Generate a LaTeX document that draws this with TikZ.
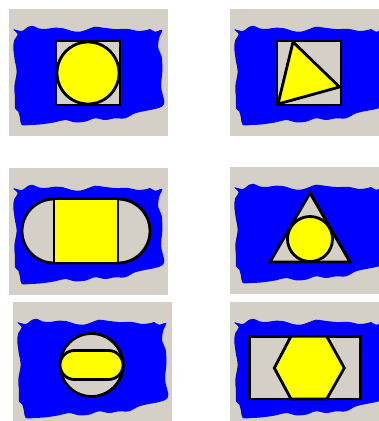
\documentclass[tikz,border=0pt]{standalone}
\definecolor{panelgray}{RGB}{212,208,200}
\definecolor{blobblue}{RGB}{0,0,255}
\definecolor{shapeyellow}{RGB}{255,255,0}
\tikzset{
  outline/.style={draw=black,line width=2.8pt,line join=miter,fill=panelgray},
  inner/.style={draw=black,line width=2.8pt,line join=miter,fill=shapeyellow},
  panel/.pic={
    \fill[panelgray] (0,0) rectangle (159,127);
    \fill[blobblue] plot[smooth cycle,tension=0.55] coordinates {
      (4.3,20.3) (12.7,22) (19.3,17.7) (24.3,17) (29.3,19.3) (36,20)
      (46,18.7) (54.3,19.3) (62.7,22) (71,22.7) (79.3,20) (86,17.7)
      (94.3,18.7) (106,20) (119.3,20) (129.3,22) (137.7,21) (141,20)
      (146,22.7) (153.3,21)
      (150,29.3) (149.3,39.3) (152.7,47.7) (153.3,62.7) (152,77.7)
      (155.3,92.7) (152.7,97.7)
      (146,100) (136,102) (126,104.3) (116,109.3) (106,109.3) (96,111)
      (86,109.3) (76,112.7) (66,113.3) (56,111) (46,113.3) (32.7,115.3)
      (21,116) (12.7,116)
      (11,109.3) (9.3,102.7) (6,99.3) (6,89.3) (5.3,77.7) (7.7,62.7)
      (6,52.7) (4.3,39.3) (5.3,31) (8.7,25.3)};
  }
}
\begin{document}
\begin{tikzpicture}[x=1pt,y=-1pt]
\useasboundingbox (0,0) rectangle (379,421);
\clip (0,0) rectangle (379,421);
% panel 1: circle in square
\begin{scope}[shift={(9,9)}]
  \pic {panel};
  \draw[outline] (47,32) rectangle (111,96);
  \draw[inner] (79,64) circle[radius=31];
\end{scope}
% panel 2: triangle in square
\begin{scope}[shift={(230,9)}]
  \pic {panel};
  \draw[outline] (47,32) rectangle (111,96);
  \draw[inner] (63,33) -- (109.5,78) -- (48,95) -- cycle;
\end{scope}
% panel 3: square in stadium
\begin{scope}[shift={(9,168)}]
  \pic {panel};
  \draw[outline] (45,31) -- (109,31) arc[start angle=-90,end angle=90,radius=32]
    -- (45,95) arc[start angle=90,end angle=270,radius=32] -- cycle;
  \draw[inner] (45,31) rectangle (109,95);
\end{scope}
% panel 4: circle in triangle
\begin{scope}[shift={(230,167)}]
  \pic {panel};
  \draw[outline] (80,26) -- (120,95) -- (40,95) -- cycle;
  \draw[inner] (80,72) circle[radius=22.5];
\end{scope}
% panel 5: stadium in circle
\begin{scope}[shift={(13,302)}]
  \pic {panel};
  \draw[outline] (78.5,63) circle[radius=31.5];
  \draw[inner] (61.5,48.5) -- (95.5,48.5) arc[start angle=-90,end angle=90,radius=14.5]
    -- (61.5,77.5) arc[start angle=90,end angle=270,radius=14.5] -- cycle;
\end{scope}
% panel 6: hexagon in rectangle
\begin{scope}[shift={(230,302)}]
  \pic {panel};
  \draw[outline] (19.3,34.3) rectangle (130.7,97);
  \draw[inner] (44.3,66) -- (61,34.3) -- (96.7,34.3) -- (114.3,66) -- (96.7,97) -- (61,97) -- cycle;
\end{scope}
\end{tikzpicture}
\end{document}
